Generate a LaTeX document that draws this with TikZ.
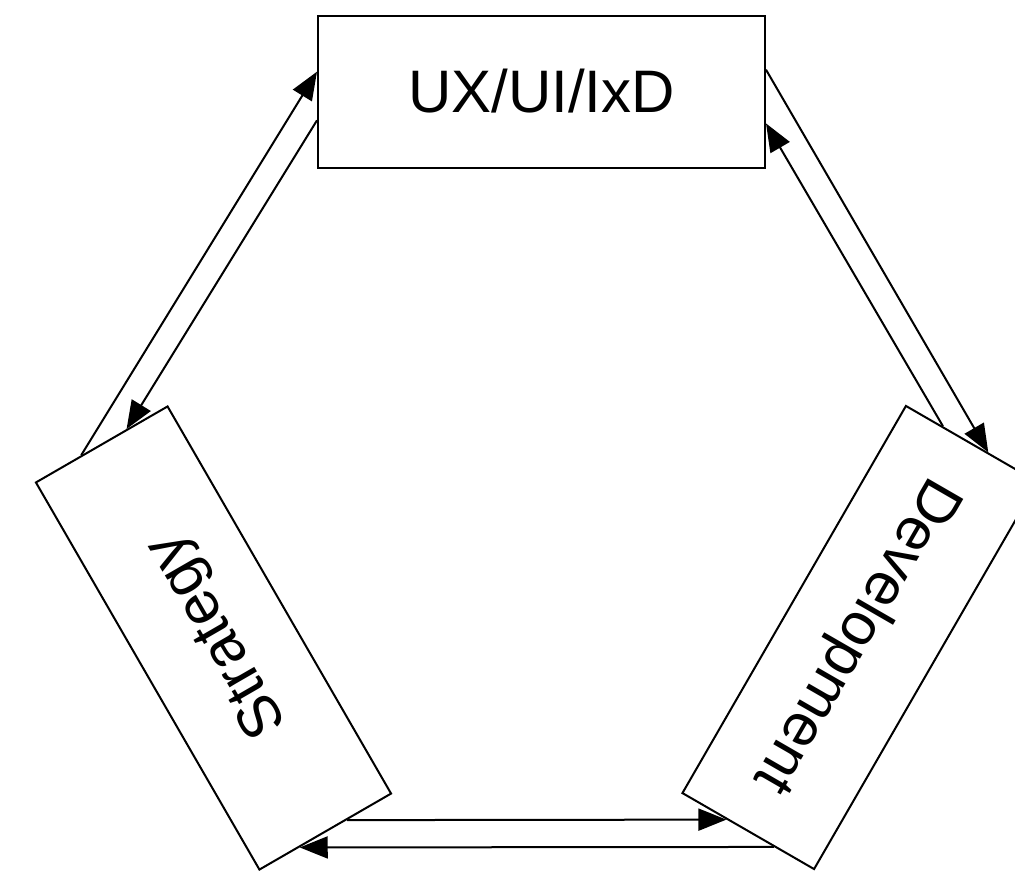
\documentclass[tikz,border=0pt]{standalone}
\usepackage{fontspec}
\setmainfont{Liberation Sans}
\usetikzlibrary{arrows.meta,calc}
\begin{document}
\begin{tikzpicture}[x=1pt,y=-1pt,
  box/.style={draw, line width=2pt, minimum width=447pt, minimum height=152pt,
    inner sep=0pt, text height=54.3pt, text depth=12.7pt,
    font=\fontsize{60}{72}\selectfont},
  link/.style={line width=2pt, -{Triangle[length=28pt,width=22pt]}}]
\useasboundingbox (0,0) rectangle (1015,871);
\clip (0,0) rectangle (1015,871);
\fill[white] (0,0) rectangle (1015,871);
\node[box] (ux) at (541.5,92) {UX/UI/IxD};
\node[box, rotate=120] (st) at (213.5,638) {Strategy};
\node[box, rotate=-120] (dv) at (860,637.5) {Development};
% attachment points
\coordinate (uxL1) at ($(ux.north west)!0.368!(ux.south west)$);
\coordinate (uxL2) at ($(ux.north west)!0.684!(ux.south west)$);
\coordinate (uxR1) at ($(ux.north east)!0.355!(ux.south east)$);
\coordinate (uxR2) at ($(ux.north east)!0.704!(ux.south east)$);
\coordinate (stE1) at ($(st.north east)!0.35!(st.south east)$);
\coordinate (stE2) at ($(st.north east)!0.69!(st.south east)$);
\coordinate (stW1) at ($(st.south west)!0.34!(st.north west)$);
\coordinate (stW2) at ($(st.south west)!0.695!(st.north west)$);
\coordinate (dvW1) at ($(dv.south west)!0.28!(dv.north west)$);
\coordinate (dvW2) at ($(dv.south west)!0.62!(dv.north west)$);
\coordinate (dvE1) at ($(dv.south east)!0.34!(dv.north east)$);
\coordinate (dvE2) at ($(dv.south east)!0.695!(dv.north east)$);
% connectors
\draw[link] (stE1) -- (uxL1);
\draw[link] (uxL2) -- (stE2);
\draw[link] (uxR1) -- (dvW2);
\draw[link] (dvW1) -- (uxR2);
\draw[link] (stW1) -- (dvE1);
\draw[link] (dvE2) -- (stW2);
\end{tikzpicture}
\end{document}
